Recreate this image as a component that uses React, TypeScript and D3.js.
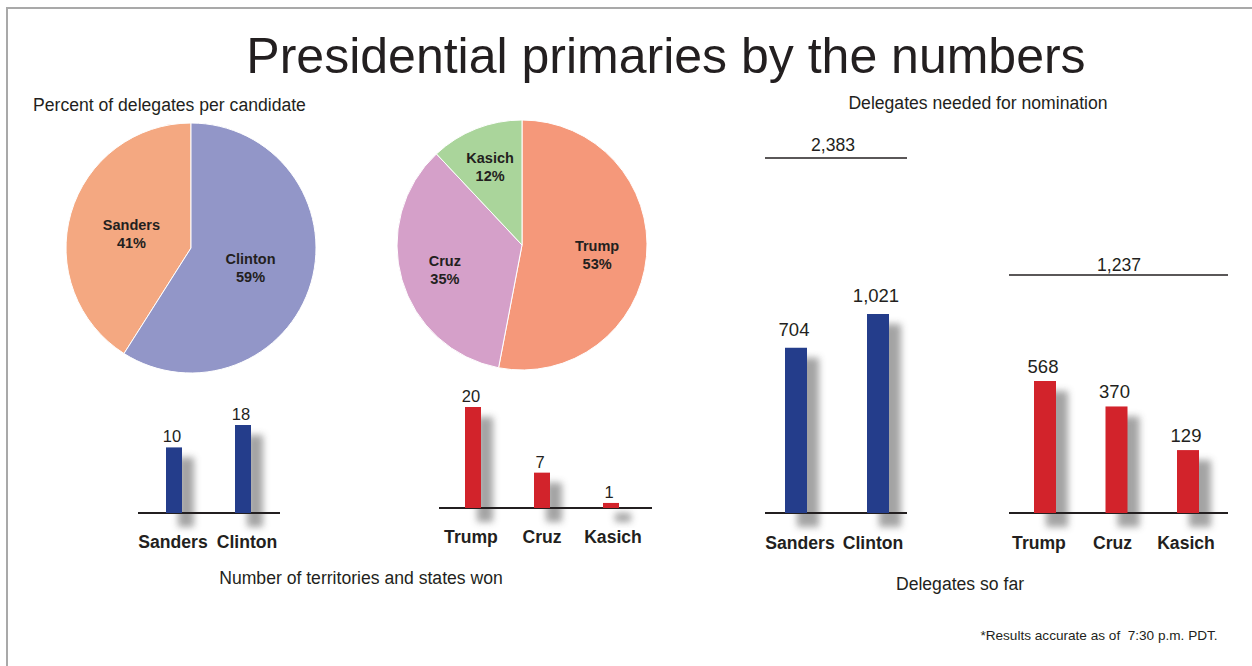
import React from "react";
import * as d3 from "d3";

const demCandidates = ["Sanders", "Clinton"];
const demPercent = [41, 59];
const repCandidates = ["Trump", "Cruz", "Kasich"];
const repPercent = [53, 35, 12];
const demStatesWon = [10, 18];
const repStatesWon = [20, 7, 1];
const demDelegates = [704, 1021];
const repDelegates = [568, 370, 129];
const demNeeded = 2383;
const repNeeded = 1237;

const demPieColors = ["#f4a881", "#9296c8"];
const repPieColors = ["#f5987a", "#d5a0c9", "#aad59b"];
const demBar = "#243d8b";
const repBar = "#d2232b";
const ink = "#231f20";
const FONT = "'Liberation Sans', Arial, Helvetica, sans-serif";

const fmt = d3.format(",");

function Pie({ cats, values, colors, cx, cy, r, labelR, a0, a1 }) {
  const pie = d3.pie<number>().sort(null).value((d) => d).startAngle(a0).endAngle(a1);
  const arcs = pie(values);
  const total = d3.sum(values);
  const arc = d3.arc<any>().innerRadius(0).outerRadius(r);
  return (
    <g transform={`translate(${cx},${cy})`}>
      {arcs.map((a, i) => (
        <path key={i} d={arc(a) as string} fill={colors[i]} stroke="#fff" strokeWidth={1} />
      ))}
      {arcs.map((a, i) => {
        const lr = labelR(values[i] / total);
        const [x, y] = d3.arc<any>().innerRadius(lr).outerRadius(lr).centroid(a);
        return (
          <text key={"l" + i} x={x} y={y} textAnchor="middle" fontFamily={FONT} fontWeight="bold" fontSize={14.5} fill={ink}>
            <tspan x={x} dy={-1}>{cats[i]}</tspan>
            <tspan x={x} dy={18}>{values[i] + "%"}</tspan>
          </text>
        );
      })}
    </g>
  );
}

function Bars({ cats, values, yScale, x0, x1, lx0, lx1, baseY, lineX0, lineX1, barW, color, valueSize, valueGap, catY, catSize, fmtVal }) {
  const x = d3.scalePoint<string>().domain(cats).range([x0, x1]);
  const lx = d3.scalePoint<string>().domain(cats).range([lx0, lx1]);
  return (
    <g>
      {cats.map((c, i) => {
        const h = yScale(values[i]);
        const cx = x(c) as number;
        return (
          <rect key={"s" + i} x={cx - barW / 2 + 12} y={baseY - h + 10} width={barW} height={h + 4}
            fill="#4a4a4a" opacity={0.5} filter="url(#blur)" />
        );
      })}
      <line x1={lineX0} x2={lineX1} y1={baseY} y2={baseY} stroke={ink} strokeWidth={2} />
      {cats.map((c, i) => {
        const h = yScale(values[i]);
        const cx = x(c) as number;
        return (
          <g key={i}>
            <rect x={cx - barW / 2} y={baseY - h} width={barW} height={h} fill={color} />
            <text x={cx - 2} y={baseY - h - valueGap} textAnchor="middle" fontFamily={FONT} fontSize={valueSize} fill={ink}>
              {fmtVal(values[i])}
            </text>
            <text x={lx(c) as number} y={catY} textAnchor="middle" fontFamily={FONT} fontWeight="bold" fontSize={catSize} fill={ink}>
              {c}
            </text>
          </g>
        );
      })}
    </g>
  );
}

export default function App() {
  const demStatesScale = d3.scaleSqrt().domain([0, d3.max(demStatesWon) as number]).range([0, 88]);
  const repStatesScale = d3.scaleLinear().domain([0, d3.max(repStatesWon) as number]).range([0, 101]);
  const demDelScale = d3.scaleSqrt().domain([0, d3.max(demDelegates) as number]).range([0, 199]);
  const repDelScale = d3.scaleSqrt().domain([0, d3.max(repDelegates) as number]).range([0, 132]);
  const TAU = Math.PI * 2;

  return (
    <svg width={1252} height={666} style={{ position: "absolute", left: 0, top: 0, display: "block", background: "#fff" }}>
      <defs>
        <filter id="blur" x="-60%" y="-60%" width="220%" height="220%">
          <feGaussianBlur stdDeviation={3.6} />
        </filter>
      </defs>
      <rect x={0} y={0} width={1252} height={666} fill="#fff" />
      <rect x={7} y={8} width={1300} height={700} fill="none" stroke="#a9a9a9" strokeWidth={2} />

      <text x={666} y={73} textAnchor="middle" fontFamily={FONT} fontSize={50} fill={ink}>
        Presidential primaries by the numbers
      </text>
      <text x={33} y={111} fontFamily={FONT} fontSize={17.6} fill={ink}>Percent of delegates per candidate</text>
      <text x={978} y={109} textAnchor="middle" fontFamily={FONT} fontSize={17.6} fill={ink}>Delegates needed for nomination</text>

      <Pie cats={demCandidates} values={demPercent} colors={demPieColors} cx={191} cy={248} r={125}
        labelR={() => 62} a0={TAU} a1={0} />
      <Pie cats={repCandidates} values={repPercent} colors={repPieColors} cx={522} cy={245} r={125}
        labelR={(f) => 125 * (0.5 + 0.22 * (1 - f))} a0={0} a1={TAU} />

      <Bars cats={demCandidates} values={demStatesWon} yScale={demStatesScale} x0={174} x1={243} lx0={173} lx1={247} baseY={513}
        lineX0={138} lineX1={280} barW={16} color={demBar} valueSize={16.5} valueGap={5} catY={548} catSize={17.6} fmtVal={fmt} />
      <Bars cats={repCandidates} values={repStatesWon} yScale={repStatesScale} x0={473} x1={611} lx0={471} lx1={613} baseY={508}
        lineX0={439} lineX1={652} barW={16} color={repBar} valueSize={16.5} valueGap={5} catY={543} catSize={17.6} fmtVal={fmt} />

      <text x={361} y={584} textAnchor="middle" fontFamily={FONT} fontSize={17.6} fill={ink}>Number of territories and states won</text>

      <line x1={765} x2={907} y1={158} y2={158} stroke={ink} strokeWidth={1.6} />
      <text x={833} y={151} textAnchor="middle" fontFamily={FONT} fontSize={17.6} fill={ink}>{fmt(demNeeded)}</text>
      <line x1={1009} x2={1228} y1={275} y2={275} stroke={ink} strokeWidth={1.6} />
      <text x={1119} y={271} textAnchor="middle" fontFamily={FONT} fontSize={17.6} fill={ink}>{fmt(repNeeded)}</text>

      <Bars cats={demCandidates} values={demDelegates} yScale={demDelScale} x0={796} x1={878} lx0={800} lx1={873} baseY={513}
        lineX0={765} lineX1={907} barW={22} color={demBar} valueSize={18.5} valueGap={12} catY={549} catSize={17.6} fmtVal={fmt} />
      <Bars cats={repCandidates} values={repDelegates} yScale={repDelScale} x0={1045} x1={1188} lx0={1039} lx1={1186} baseY={513}
        lineX0={1009} lineX1={1228} barW={22} color={repBar} valueSize={18.5} valueGap={8} catY={549} catSize={17.6} fmtVal={fmt} />

      <text x={960} y={590} textAnchor="middle" fontFamily={FONT} fontSize={17.6} fill={ink}>Delegates so far</text>
      <text x={1099} y={640} textAnchor="middle" fontFamily={FONT} fontSize={13.6} fill={ink} style={{ whiteSpace: "pre" }}>
        {"*Results accurate as of  7:30 p.m. PDT."}
      </text>
    </svg>
  );
}
